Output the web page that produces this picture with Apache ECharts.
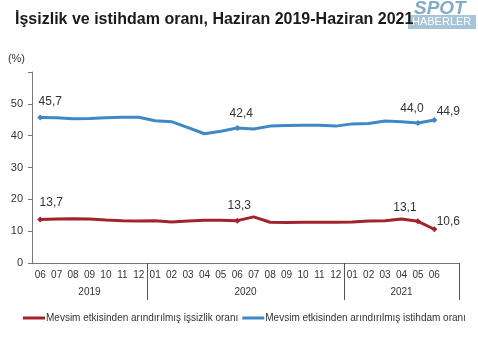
<!DOCTYPE html>
<html><head><meta charset="utf-8">
<script src="https://cdn.jsdelivr.net/npm/echarts@6/dist/echarts.min.js"></script>
<style>html,body{margin:0;padding:0;background:#fff}#c{width:478px;height:348px}</style>
</head><body><div id="c"></div>
<script>
var months = ['06','07','08','09','10','11','12','01','02','03','04','05','06','07','08','09','10','11','12','01','02','03','04','05','06',''];
var yearLabels = ['2019','2020','2021'];
var yearCenters = [3.5, 13, 22.5];
var yearBounds = [7, 19, 26];
var unemployment = [13.7,13.8,13.9,13.8,13.5,13.3,13.2,13.3,12.9,13.2,13.4,13.4,13.3,14.5,12.8,12.7,12.8,12.8,12.8,12.9,13.2,13.3,13.8,13.1,10.6];
var employment = [45.7,45.6,45.3,45.4,45.6,45.8,45.8,44.7,44.4,42.5,40.6,41.4,42.4,42.1,43.0,43.2,43.3,43.3,43.0,43.7,43.8,44.6,44.4,44.0,44.9];
var labelled = [0, 12, 23, 24];
var empOffsets = {0:[10,-2],12:[4,0],23:[-6,0],24:[14,6]};
var unOffsets = {0:[11,-3],12:[2,-1],23:[-13,0],24:[14,6]};

function fmt(v){ return v.toFixed(1).replace('.', ','); }
function build(arr, offs){
  return arr.map(function(v,i){
    if (labelled.indexOf(i) >= 0) {
      return {value:v, symbol:'diamond', symbolSize:6,
        label:{show:true, position:'top', offset:offs[i], formatter:function(p){return fmt(p.value);},
          fontSize:12, color:'#333', fontFamily:'Arial, Liberation Sans'}};
    }
    return {value:v, symbol:'none'};
  });
}

var chart = echarts.init(document.getElementById('c'));
chart.setOption({
  animation:false,
  textStyle:{fontFamily:'Arial, Liberation Sans'},
  title:{text:'İşsizlik ve istihdam oranı, Haziran 2019-Haziran 2021', left:10, top:7,
    textStyle:{fontSize:16, fontWeight:'bold', color:'#1a1a1a', fontFamily:'Arial, Liberation Sans'}},
  graphic:[
    {type:'rect', shape:{x:408,y:15,width:68,height:14}, style:{fill:'#a7c5d9'}},
    {type:'text', x:412, y:16, style:{text:'HABERLER', fill:'#fff', font:'11px Arial'}},
    {type:'text', x:414, y:-1, style:{text:'SPOT', fill:'#82abc7', font:'italic bold 19px Arial'}}
  ],
  grid:{left:32, right:19, top:72, bottom:85},
  legend:{bottom:20, left:18, itemWidth:22, itemHeight:3, itemGap:4, icon:'rect',
    textStyle:{fontSize:10, color:'#333', padding:[0,0,0,-4]},
    data:['Mevsim etkisinden arındırılmış işsizlik oranı','Mevsim etkisinden arındırılmış istihdam oranı']},
  xAxis:[
    {type:'category', data:months, boundaryGap:true,
      axisLine:{lineStyle:{color:'#777'}}, axisTick:{show:false},
      axisLabel:{interval:0, fontSize:10, color:'#333', margin:7}},
    {type:'value', min:0, max:26, position:'bottom', gridIndex:0,
      axisLine:{show:false}, splitLine:{show:false},
      axisTick:{show:true, customValues:yearBounds, length:37, lineStyle:{color:'#555'}},
      axisLabel:{customValues:yearCenters, fontSize:10, color:'#333', margin:24,
        formatter:function(v){ var i = yearCenters.indexOf(v); return i>=0 ? yearLabels[i] : ''; }}}
  ],
  yAxis:{type:'value', min:0, max:60, interval:10, name:'(%)', nameLocation:'end', nameGap:8,
    nameTextStyle:{fontSize:11, color:'#333', align:'right', padding:[0,7,0,0]},
    axisLine:{show:true, lineStyle:{color:'#777'}}, axisTick:{show:true, length:4, lineStyle:{color:'#777'}},
    splitLine:{show:false},
    axisLabel:{fontSize:11, color:'#333', margin:9, formatter:function(v){return v===60?'':v;}}},
  series:[
    {name:'Mevsim etkisinden arındırılmış işsizlik oranı', type:'line', data:build(unemployment, unOffsets),
      color:'#a3232a', lineStyle:{width:3, color:'#a3232a'}, itemStyle:{color:'#a3232a'}, smooth:false},
    {name:'Mevsim etkisinden arındırılmış istihdam oranı', type:'line', data:build(employment, empOffsets),
      color:'#3f88c5', lineStyle:{width:3, color:'#3f88c5'}, itemStyle:{color:'#3f88c5'}, smooth:false}
  ]
});
</script></body></html>
